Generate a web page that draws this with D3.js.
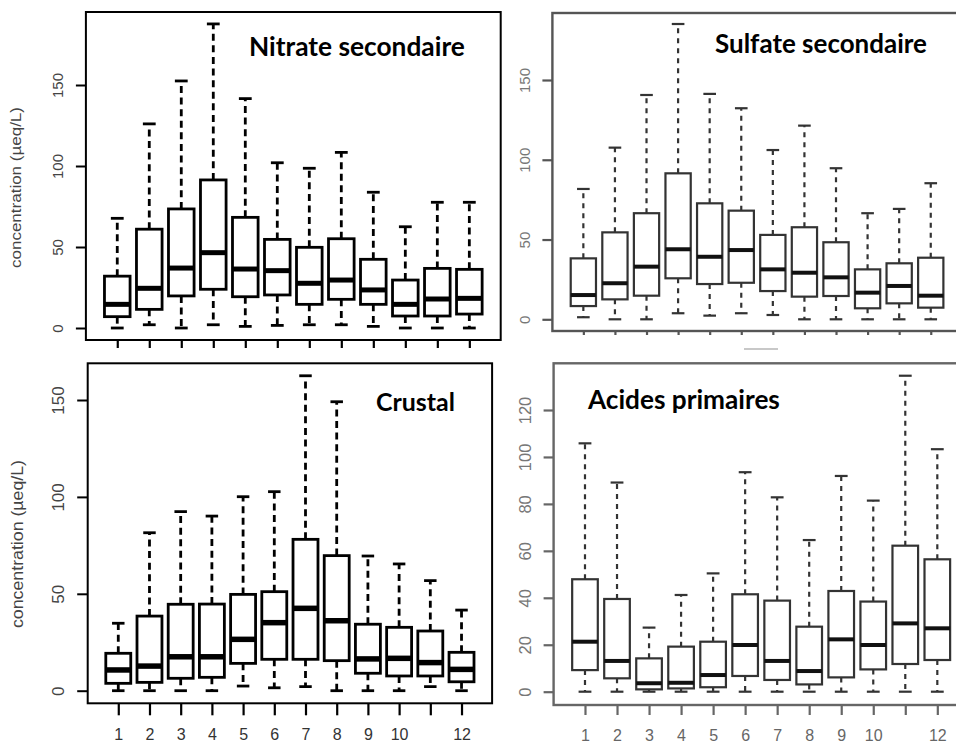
<!DOCTYPE html>
<html><head><meta charset="utf-8">
<script src="https://cdn.jsdelivr.net/npm/d3@7"></script>
<style>body{margin:0;background:#fff} svg{display:block}</style>
</head><body><svg id="chart" width="956" height="745"></svg>
<script>
// ---------- data ----------
const months = [1,2,3,4,5,6,7,8,9,10,11,12];
const xTickLabels = ["1","2","3","4","5","6","7","8","9","10","","12"];
const yTicksMain = [0,50,100,150];
const yTicksAcides = [0,20,40,60,80,100,120];
const yAxisTitle = "concentration (µeq/L)";
const panelTitles = ["Nitrate secondaire","Sulfate secondaire","Crustal","Acides primaires"];

const nitrateLow  = [0,2,0,2,1,1.6,2,2,1,0,0,0];
const nitrateQ1   = [7,11.5,19.8,23.9,19.3,20.4,14.6,17.7,14.6,7.4,7.4,8.6];
const nitrateMed  = [14.6,24.5,37,46.5,36.4,35.4,27.6,29.6,23.5,14.6,17.9,18.3];
const nitrateQ3   = [32,61,73.5,91.4,68.3,54.7,49.8,55.1,42.4,29.6,36.8,36.2];
const nitrateHigh = [67.7,126,152.5,187.7,141.6,102,98.6,108.4,83.8,62.5,77.6,77.6];

const sulfateLow  = [1.3,0,0,3.8,2.3,3.8,2.7,0,0,0,0,0];
const sulfateQ1   = [8.3,12.5,14.8,25.7,22.1,22.9,17.7,14.2,14.6,6.9,10,7.3];
const sulfateMed  = [15.2,22.6,33,43.9,39.2,43.4,31.3,29.2,26.3,16.7,20.9,14.8];
const sulfateQ3   = [38.2,54.5,66.5,91.5,72.7,68.1,52.9,57.7,48.3,31.3,35.1,38.6];
const sulfateHigh = [81.7,107.6,140.6,185.1,141.3,132.3,106.1,121.4,94.7,66.5,69.2,85.3];

const crustalLow  = [0,0,0,0,2.4,1.5,2.1,0,0,0,2.1,0];
const crustalQ1   = [3.8,4.3,6.4,6.9,14.1,16.2,16.2,15.5,9,7.6,7.6,4.6];
const crustalMed  = [10.7,12.7,17.5,17.5,26.5,35.1,42.5,36.1,16.4,16.7,14.5,11];
const crustalQ3   = [19.3,38.5,44.6,44.7,49.7,51.1,78.1,69.7,34.3,32.7,30.8,19.8];
const crustalHigh = [34.8,81.5,92.4,90.1,100.1,102.7,162.5,149.1,69.5,65.4,56.8,41.6];

const acidesLow  = [0,0,0,0,0,0,0,0,0,0,0,0];
const acidesQ1   = [9.2,5.7,1,1.4,1.9,6.7,5,3.1,6.1,9.5,11.8,13.5];
const acidesMed  = [21.3,13.1,3.6,3.8,7.1,19.9,13.1,8.8,22.3,19.9,29.1,27];
const acidesQ3   = [47.9,39.5,14.2,19.2,21.3,41.5,38.8,27.7,42.9,38.4,62.2,56.4];
const acidesHigh = [105.8,89.1,27.3,41.2,50.4,93.5,82.8,64.6,91.9,81.4,134.6,103.3];

// ---------- layout ----------
const svg = d3.select("#chart");

const panels = [
  { title: panelTitles[0], low: nitrateLow, q1: nitrateQ1, med: nitrateMed, q3: nitrateQ3, high: nitrateHigh,
    yTicks: yTicksMain, yMax: 150,
    xr: [85.9, 500.7], yr: [328, 85], top: 12, bottom: 340,
    crisp: true, frameColor: "#000", lineColor: "#000", medColor: "#000",
    boxW: 2.8, medW: 5, whiskW: 2.8, frameW: 2, dash: "7,4.6",
    yLabOff: 23, yLabSize: 15, yLabColor: "#444",
    yTickLen: 10, xTickLen: 8, xLabels: false,
    yTitle: { x: 21, y: 187.5, len: 161, size: 15 },
    titlePos: [249, 56], titleW: 216 },
  { title: panelTitles[1], low: sulfateLow, q1: sulfateQ1, med: sulfateMed, q3: sulfateQ3, high: sulfateHigh,
    yTicks: yTicksMain, yMax: 150,
    xr: [552.4, 961.7], yr: [319.3, 80], top: 13, bottom: 331,
    crisp: false, frameColor: "#555", lineColor: "#333", medColor: "#111",
    boxW: 2.2, medW: 4, whiskW: 2.2, frameW: 2.4, dash: "5,5",
    yLabOff: 22, yLabSize: 15, yLabColor: "#777",
    yTickLen: 10, xTickLen: 4, xLabels: false,
    yTitle: null,
    titlePos: [715, 53], titleW: 212 },
  { title: panelTitles[2], low: crustalLow, q1: crustalQ1, med: crustalMed, q3: crustalQ3, high: crustalHigh,
    yTicks: yTicksMain, yMax: 150,
    xr: [87.7, 492.1], yr: [690.7, 400], top: 363.3, bottom: 703.3,
    crisp: true, frameColor: "#000", lineColor: "#000", medColor: "#000",
    boxW: 2.8, medW: 5.5, whiskW: 2.8, frameW: 2, dash: "7,4.6",
    yLabOff: 24, yLabSize: 17, yLabColor: "#444",
    yTickLen: 10.5, xTickLen: 12, xLabels: true, xLabY: 740.3, xLabSize: 16, xLabColor: "#333",
    yTitle: { x: 23, y: 544, len: 168, size: 16 },
    titlePos: [376, 411], titleW: 79 },
  { title: panelTitles[3], low: acidesLow, q1: acidesQ1, med: acidesMed, q3: acidesQ3, high: acidesHigh,
    yTicks: yTicksAcides, yMax: 120,
    xr: [553.6, 968.7], yr: [691.7, 410], top: 363.3, bottom: 705,
    crisp: false, frameColor: "#666", lineColor: "#333", medColor: "#111",
    boxW: 2.2, medW: 4, whiskW: 2.2, frameW: 2.4, dash: "5,5",
    yLabOff: 23, yLabSize: 16.5, yLabColor: "#777",
    yTickLen: 10, xTickLen: 10, xLabels: true, xLabY: 740.8, xLabSize: 16, xLabColor: "#666",
    yTitle: null,
    titlePos: [588, 409], titleW: 192 }
];

panels.forEach(p => {
  const g = svg.append("g");
  const x = d3.scaleLinear().domain([0.02, 12.98]).range(p.xr);
  const y = d3.scaleLinear().domain([0, p.yMax]).range(p.yr);
  const data = months.map((m, i) => ({ m, low: p.low[i], q1: p.q1[i], med: p.med[i], q3: p.q3[i], high: p.high[i] }));

  // y axis
  const ya = g.append("g").attr("transform", `translate(${p.xr[0]},0)`)
    .call(d3.axisLeft(y).tickValues(p.yTicks).tickSize(p.yTickLen).tickSizeOuter(0).tickFormat(d3.format("d")));
  ya.select(".domain").remove();
  ya.selectAll(".tick line").attr("stroke", p.frameColor).attr("stroke-width", p.crisp ? 2 : 2.2);
  ya.selectAll(".tick text")
    .attr("transform", "rotate(-90)")
    .attr("x", 0).attr("y", -p.yLabOff).attr("dy", 0)
    .attr("text-anchor", "middle")
    .attr("fill", p.yLabColor)
    .style("font-family", "'Liberation Sans', Arial, sans-serif")
    .style("font-size", p.yLabSize + "px");

  // x axis
  const xa = g.append("g").attr("transform", `translate(0,${p.bottom})`)
    .call(d3.axisBottom(x).tickValues(months).tickSize(p.xTickLen).tickSizeOuter(0)
      .tickFormat(d => xTickLabels[d - 1]));
  xa.select(".domain").remove();
  xa.selectAll(".tick line").attr("stroke", p.frameColor).attr("stroke-width", 2.2);
  if (p.xLabels) {
    xa.selectAll(".tick text")
      .attr("y", p.xLabY - p.bottom).attr("dy", 0)
      .attr("fill", p.xLabColor)
      .style("font-family", "'Liberation Sans', Arial, sans-serif")
      .style("font-size", p.xLabSize + "px");
  } else {
    xa.selectAll(".tick text").remove();
  }

  // whiskers
  const bx = g.append("g");
  bx.selectAll(".wu").data(data).join("line")
    .attr("x1", d => x(d.m)).attr("x2", d => x(d.m))
    .attr("y1", d => y(d.q3)).attr("y2", d => y(d.high))
    .attr("stroke", p.lineColor).attr("stroke-width", p.whiskW).attr("stroke-dasharray", p.dash);
  bx.selectAll(".wl").data(data).join("line")
    .attr("x1", d => x(d.m)).attr("x2", d => x(d.m))
    .attr("y1", d => y(d.q1)).attr("y2", d => y(d.low))
    .attr("stroke", p.lineColor).attr("stroke-width", p.whiskW).attr("stroke-dasharray", p.dash);
  // staples
  bx.selectAll(".su").data(data).join("line")
    .attr("x1", d => x(d.m - 0.2)).attr("x2", d => x(d.m + 0.2))
    .attr("y1", d => y(d.high)).attr("y2", d => y(d.high))
    .attr("stroke", p.lineColor).attr("stroke-width", p.whiskW);
  bx.selectAll(".sl").data(data).join("line")
    .attr("x1", d => x(d.m - 0.2)).attr("x2", d => x(d.m + 0.2))
    .attr("y1", d => y(d.low)).attr("y2", d => y(d.low))
    .attr("stroke", p.lineColor).attr("stroke-width", p.whiskW);
  // boxes
  bx.selectAll(".bx").data(data).join("rect")
    .attr("x", d => x(d.m - 0.4)).attr("width", d => x(d.m + 0.4) - x(d.m - 0.4))
    .attr("y", d => y(d.q3)).attr("height", d => y(d.q1) - y(d.q3))
    .attr("fill", "#fff").attr("stroke", p.lineColor).attr("stroke-width", p.boxW);
  // medians
  bx.selectAll(".md").data(data).join("line")
    .attr("x1", d => x(d.m - 0.4)).attr("x2", d => x(d.m + 0.4))
    .attr("y1", d => y(d.med)).attr("y2", d => y(d.med))
    .attr("stroke", p.medColor).attr("stroke-width", p.medW);

  // frame
  g.append("rect")
    .attr("x", p.xr[0]).attr("y", p.top)
    .attr("width", p.xr[1] - p.xr[0]).attr("height", p.bottom - p.top)
    .attr("fill", "none").attr("stroke", p.frameColor).attr("stroke-width", p.frameW);

  // y axis title
  if (p.yTitle) {
    g.append("text")
      .attr("transform", `translate(${p.yTitle.x},${p.yTitle.y}) rotate(-90)`)
      .attr("text-anchor", "middle")
      .attr("textLength", p.yTitle.len).attr("lengthAdjust", "spacingAndGlyphs")
      .attr("fill", "#444")
      .style("font-family", "'Liberation Sans', Arial, sans-serif")
      .style("font-size", p.yTitle.size + "px")
      .text(yAxisTitle);
  }

  // panel title
  const t = g.append("text")
    .attr("x", p.titlePos[0]).attr("y", p.titlePos[1])
    .attr("fill", "#000")
    .style("font-family", "Lato, 'Open Sans', sans-serif")
    .style("font-weight", "bold")
    .style("font-size", "23px")
    .text(p.title);
  const w = t.node().getComputedTextLength();
  if (w > 0) t.style("font-size", (23 * p.titleW / w).toFixed(2) + "px");
});

// faint cropped remnant under the top-right panel
svg.append("line").attr("x1", 744).attr("x2", 778).attr("y1", 349).attr("y2", 349)
  .attr("stroke", "#c8c8c8").attr("stroke-width", 2);
</script>
</body></html>
